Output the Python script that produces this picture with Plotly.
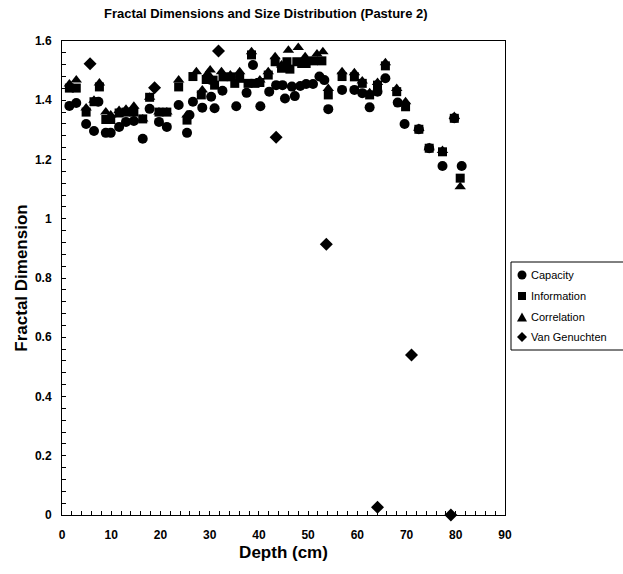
import plotly.graph_objects as go

# Capacity
cap_depth = [1.5, 2.9, 4.9, 6.5, 7.4, 8.9, 9.9, 11.6, 13.0, 14.6, 16.4, 17.8, 19.7, 21.3, 23.7,
             25.4, 25.9, 26.6, 28.5, 30.3, 31.0, 32.6, 35.4, 37.5, 38.8, 40.3, 42.1, 43.5, 44.8, 45.3,
             46.7, 47.3, 48.4, 49.6, 51.0, 52.3, 53.3, 54.1, 56.9, 59.4, 61.0, 62.5, 64.1, 65.7, 68.2,
             69.6, 72.5, 74.6, 77.3, 79.7, 81.2]
cap_val = [1.381, 1.391, 1.320, 1.296, 1.395, 1.290, 1.290, 1.310, 1.327, 1.330, 1.270, 1.371, 1.327, 1.310, 1.384,
           1.290, 1.350, 1.395, 1.375, 1.412, 1.373, 1.432, 1.380, 1.425, 1.519, 1.380, 1.429, 1.451, 1.451, 1.406,
           1.446, 1.414, 1.448, 1.455, 1.455, 1.480, 1.468, 1.370, 1.435, 1.435, 1.424, 1.376, 1.429, 1.474, 1.392,
           1.320, 1.302, 1.238, 1.178, 1.339, 1.178]

# Information
info_depth = [1.5, 2.9, 4.9, 6.5, 7.6, 8.9, 9.9, 11.6, 13.0, 14.6, 16.4, 17.8, 19.7, 21.3, 23.7,
              25.4, 26.6, 28.3, 29.3, 30.7, 31.0, 32.7, 34.4, 35.1, 36.1, 37.8, 38.5, 39.2, 40.2, 41.9,
              43.3, 44.6, 45.7, 46.3, 47.7, 48.7, 49.6, 51.1, 52.8, 54.1, 56.9, 59.4, 61.0, 62.5, 64.1,
              65.7, 68.0, 69.8, 72.5, 74.6, 77.3, 79.7, 80.9]
info_val = [1.441, 1.441, 1.360, 1.395, 1.445, 1.335, 1.335, 1.357, 1.360, 1.360, 1.337, 1.410, 1.360, 1.360, 1.445,
            1.333, 1.480, 1.418, 1.470, 1.468, 1.451, 1.479, 1.479, 1.457, 1.474, 1.457, 1.553, 1.457, 1.460, 1.485,
            1.530, 1.508, 1.530, 1.505, 1.530, 1.524, 1.524, 1.533, 1.533, 1.418, 1.480, 1.479, 1.457, 1.418, 1.451,
            1.516, 1.429, 1.378, 1.302, 1.238, 1.226, 1.339, 1.137]

# Correlation
corr_depth = [1.5, 2.9, 4.9, 6.5, 7.6, 8.9, 9.9, 11.6, 13.0, 14.6, 16.4, 17.8, 19.7, 21.3, 23.7,
              25.4, 27.3, 28.5, 29.6, 30.1, 32.4, 34.2, 36.1, 38.5, 40.2, 41.9, 43.3, 44.6, 46.0, 48.0,
              49.4, 51.8, 53.0, 54.1, 56.9, 59.4, 61.0, 62.5, 64.1, 65.7, 68.0, 69.8, 72.5, 74.6, 77.3,
              79.7, 80.9]
corr_val = [1.455, 1.468, 1.374, 1.400, 1.458, 1.360, 1.350, 1.365, 1.370, 1.380, 1.337, 1.410, 1.360, 1.360, 1.468,
            1.350, 1.496, 1.435, 1.490, 1.502, 1.496, 1.485, 1.496, 1.564, 1.468, 1.496, 1.547, 1.519, 1.569, 1.578,
            1.547, 1.556, 1.564, 1.440, 1.496, 1.493, 1.465, 1.425, 1.460, 1.527, 1.440, 1.395, 1.305, 1.240, 1.230,
            1.345, 1.108]

# Van Genuchten
vg_depth = [5.7, 18.8, 31.8, 43.5, 53.7, 64.1, 71.0, 79.0]
vg_val = [1.523, 1.442, 1.566, 1.275, 0.914, 0.026, 0.54, 0.0]

x_ticks = [0, 10, 20, 30, 40, 50, 60, 70, 80, 90]
x_ticktext = ["0", "10", "20", "30", "40", "50", "60", "70", "80", "90"]
y_ticks = [0, 0.2, 0.4, 0.6, 0.8, 1.0, 1.2, 1.4, 1.6]
y_ticktext = ["0", "0.2", "0.4", "0.6", "0.8", "1", "1.2", "1.4", "1.6"]

series_names = ["Capacity", "Information", "Correlation", "Van Genuchten"]
series_symbols = ["circle", "square", "triangle-up", "diamond"]
series_sizes = [10, 9, 10, 10]

X_RANGE = [0, 90]
Y_RANGE = [0, 1.6]

FONT = "Liberation Sans, Arial, sans-serif"
W, H = 623, 574
ML, MR, MT, MB = 62, 118, 41, 59
PW, PH = W - ML - MR, H - MT - MB

fig = go.Figure()
series_data = [(cap_depth, cap_val), (info_depth, info_val), (corr_depth, corr_val), (vg_depth, vg_val)]
for name, sym, sz, (xs, ys) in zip(series_names, series_symbols, series_sizes, series_data):
    fig.add_trace(go.Scatter(
        x=xs, y=ys, mode="markers", name=name, showlegend=False,
        marker=dict(symbol=sym, size=sz, color="black", line=dict(width=0)),
        cliponaxis=False,
    ))

# Legend drawn by hand (box runs off the right edge, like the reference)
px2x = lambda p: (p - ML) / PW
py2y = lambda p: (H - MB - p) / PH
leg_left, leg_top, leg_bottom = 511, 262, 350
leg_rows = [275, 296, 317, 337]
leg_mx, leg_tx = 522, 529
shapes = [dict(type="rect", xref="paper", yref="paper",
               x0=px2x(leg_left), x1=px2x(W + 20), y0=py2y(leg_bottom), y1=py2y(leg_top),
               line=dict(color="black", width=1), fillcolor="rgba(0,0,0,0)")]


def poly(points):
    return "M " + " L ".join(f"{px2x(px):.5f},{py2y(py):.5f}" for px, py in points) + " Z"


for name, sym, ry in zip(series_names, series_symbols, leg_rows):
    cx, cy = leg_mx, ry
    common = dict(xref="paper", yref="paper", line=dict(width=0), fillcolor="black")
    if sym == "circle":
        shapes.append(dict(type="circle", x0=px2x(cx - 4.5), x1=px2x(cx + 4.5),
                           y0=py2y(cy + 4.5), y1=py2y(cy - 4.5), **common))
    elif sym == "square":
        shapes.append(dict(type="rect", x0=px2x(cx - 4), x1=px2x(cx + 4),
                           y0=py2y(cy + 4), y1=py2y(cy - 4), **common))
    elif sym == "triangle-up":
        shapes.append(dict(type="path", path=poly([(cx - 5, cy + 4.5), (cx + 5, cy + 4.5), (cx, cy - 4.5)]),
                           **common))
    else:
        shapes.append(dict(type="path", path=poly([(cx, cy - 5), (cx + 5, cy), (cx, cy + 5), (cx - 5, cy)]),
                           **common))
    fig.add_annotation(text=name, xref="paper", yref="paper", x=px2x(leg_tx), y=py2y(ry),
                       xanchor="left", yanchor="middle", showarrow=False,
                       font=dict(size=11, family=FONT, color="black"))

fig.update_layout(
    width=W, height=H,
    margin=dict(l=ML, r=MR, t=MT, b=MB, autoexpand=False),
    paper_bgcolor="white", plot_bgcolor="white",
    font=dict(family=FONT, color="black"),
    shapes=shapes,
    title=dict(text="<b>Fractal Dimensions and Size Distribution (Pasture 2)</b>",
               x=0.46, xref="paper", xanchor="center", y=0.977, yanchor="middle",
               font=dict(size=13, family=FONT, color="black")),
    showlegend=False,
    xaxis=dict(range=X_RANGE, tickvals=x_ticks, ticktext=x_ticktext,
               showgrid=False, zeroline=False,
               showline=True, linecolor="black", linewidth=1, mirror=True,
               ticks="inside", ticklen=4, tickcolor="black", ticklabelstandoff=9,
               minor=dict(dtick=2, ticks="inside", ticklen=4, tickcolor="black", showgrid=False),
               tickfont=dict(size=12, family=FONT, color="black", weight="bold"),
               title=dict(text="<b>Depth (cm)</b>", font=dict(size=17, family=FONT, color="black"),
                          standoff=4)),
    yaxis=dict(range=Y_RANGE, tickvals=y_ticks, ticktext=y_ticktext,
               showgrid=False, zeroline=False,
               showline=True, linecolor="black", linewidth=1, mirror=True,
               ticks="inside", ticklen=4, tickcolor="black", ticklabelstandoff=7,
               minor=dict(dtick=0.04, ticks="inside", ticklen=4, tickcolor="black", showgrid=False),
               tickfont=dict(size=12, family=FONT, color="black", weight="bold"),
               title=dict(text="<b>Fractal Dimension</b>", font=dict(size=17, family=FONT, color="black"),
                          standoff=2)),
)

fig.write_html("out.html")
